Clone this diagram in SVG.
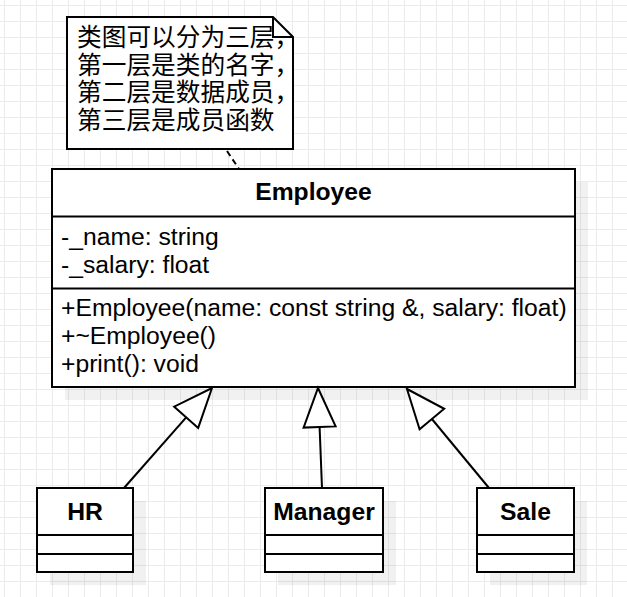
<svg xmlns="http://www.w3.org/2000/svg" width="627" height="597" viewBox="0 0 627 597">
<defs>
<pattern id="grid" width="16" height="16" patternUnits="userSpaceOnUse" x="4" y="5">
<path d="M0,0.5 H16 M0.5,0 V16" fill="none" stroke="#ebebeb" stroke-width="1"/>
</pattern>
<style>
.box{fill:#ffffff;stroke:#000000;stroke-width:2}
.shadow{fill:#000000;fill-opacity:0.055}
.div{stroke:#000000;stroke-width:2;fill:none}
.title{font-family:"Liberation Sans",Arial,sans-serif;font-size:24.7px;font-weight:bold;text-anchor:middle;fill:#000}
.member{font-family:"Liberation Sans",Arial,sans-serif;font-size:24.7px;fill:#000}
.note{font-family:"Liberation Sans","Noto Sans CJK SC",sans-serif;font-size:24.7px;fill:#000}
.edge{stroke:#000;stroke-width:2;fill:none}
.head{fill:#fff;stroke:#000;stroke-width:2;stroke-linejoin:miter}
</style>
</defs>
<rect width="627" height="597" fill="#ffffff"/>
<rect width="627" height="597" fill="url(#grid)"/>

<g id="note">
<path class="box" d="M67,17 H273 L293,37 V149 H67 Z"/>
<path class="div" d="M273,17 V37 H293"/>
<text class="note" x="77" y="46">类图可以分为三层，</text>
<text class="note" x="77" y="73.5">第一层是类的名字，</text>
<text class="note" x="77" y="101">第二层是数据成员，</text>
<text class="note" x="77" y="128.5">第三层是成员函数</text>
</g>

<g id="employee">
<rect class="shadow" x="65" y="182" width="523" height="218"/>
<rect class="box" x="52" y="169" width="523" height="218"/>
<line class="div" x1="52" y1="216.5" x2="575" y2="216.5"/>
<line class="div" x1="52" y1="288.5" x2="575" y2="288.5"/>
<text class="title" x="313.5" y="200">Employee</text>
<text class="member" x="61" y="245">-_name: string</text>
<text class="member" x="61" y="273">-_salary: float</text>
<text class="member" x="61" y="316">+Employee(name: const string &amp;, salary: float)</text>
<text class="member" x="61" y="344">+~Employee()</text>
<text class="member" x="61" y="372">+print(): void</text>
</g>

<g id="hr">
<rect class="shadow" x="50" y="501" width="96" height="84"/>
<rect class="box" x="37" y="488" width="96" height="84"/>
<line class="div" x1="37" y1="535" x2="133" y2="535"/>
<line class="div" x1="37" y1="554" x2="133" y2="554"/>
<text class="title" x="85" y="520">HR</text>
</g>

<g id="manager">
<rect class="shadow" x="278" y="501" width="118" height="84"/>
<rect class="box" x="265" y="488" width="118" height="84"/>
<line class="div" x1="265" y1="535" x2="383" y2="535"/>
<line class="div" x1="265" y1="554" x2="383" y2="554"/>
<text class="title" x="324" y="520">Manager</text>
</g>

<g id="sale">
<rect class="shadow" x="490" y="501" width="97" height="84"/>
<rect class="box" x="477" y="488" width="97" height="84"/>
<line class="div" x1="477" y1="535" x2="574" y2="535"/>
<line class="div" x1="477" y1="554" x2="574" y2="554"/>
<text class="title" x="525.5" y="520">Sale</text>
</g>

<g id="connectors">
<line x1="227" y1="151" x2="239" y2="169" stroke="#000" stroke-width="2" stroke-dasharray="6 4"/>
<line class="edge" x1="124" y1="488" x2="186.2" y2="417.3"/>
<polygon class="head" points="212,388 198.2,427.9 174.2,406.7"/>
<line class="edge" x1="322" y1="488" x2="319.6" y2="427"/>
<polygon class="head" points="318,388 335.6,426.4 303.6,427.6"/>
<line class="edge" x1="489" y1="488" x2="431.9" y2="419"/>
<polygon class="head" points="407,389 444.2,408.8 419.6,429.2"/>
</g>
</svg>
